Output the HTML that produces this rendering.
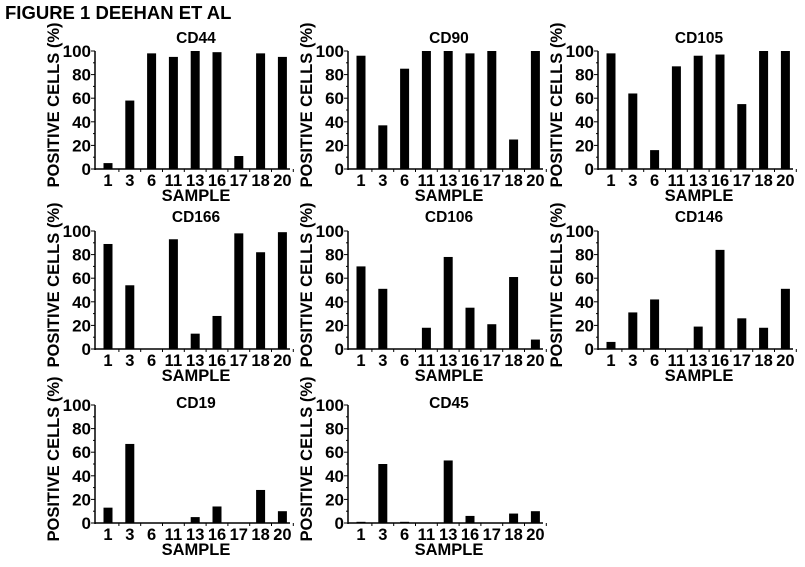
<!DOCTYPE html>
<html><head><meta charset="utf-8"><style>
body{margin:0;background:#fff;width:805px;height:562px;overflow:hidden;font-family:"Liberation Sans",Arial,sans-serif}
svg text{font-family:"Liberation Sans",Arial,sans-serif;font-weight:bold;fill:#000}
</style></head><body>
<svg id="fig" width="805" height="562" xmlns="http://www.w3.org/2000/svg">
<text x="5" y="19" font-size="18.5">FIGURE 1 DEEHAN ET AL</text>
</svg>
<script>
const categories=["1","3","6","11","13","16","17","18","20"];
const yTicks=[0,20,40,60,80,100];
const markers=["CD44","CD90","CD105","CD166","CD106","CD146","CD19","CD45"];
const cd44=[5,58,98,95,100,99,11,98,95];
const cd90=[96,37,85,100,100,98,100,25,100];
const cd105=[98,64,16,87,96,97,55,100,100];
const cd166=[89,54,0,93,13,28,98,82,99];
const cd106=[70,51,0,18,78,35,21,61,8];
const cd146=[6,31,42,0,19,84,26,18,51];
const cd19=[13,67,0,0,5,14,0,28,10];
const cd45=[1,50,1,0,53,6,0,8,10];
const series=[cd44,cd90,cd105,cd166,cd106,cd146,cd19,cd45];
const NS="http://www.w3.org/2000/svg";
const svg=document.getElementById('fig');
function mk(tag,attrs,parent){const e=document.createElementNS(NS,tag);for(const k in attrs)e.setAttribute(k,attrs[k]);parent.appendChild(e);return e;}
const colX=[95,348,598], rowY=[51,231,405], titleOff=[-8,-9,3], H=118, W=195, step=21.8, bw=9;
series.forEach((vals,i)=>{
  const r0=Math.floor(i/3);
  const ax=colX[i%3], top=rowY[r0], base=top+H;
  const g=mk('g',{},svg);
  
  
  const y=v=>base-v/100*H;
  const x=j=>ax+13+j*step;
  const t=mk('text',{x:ax+101,y:top+titleOff[r0],'font-size':15.5,'text-anchor':'middle'},g);t.textContent=markers[i];
  
  
  const yl=mk('line',{x1:ax,y1:top,x2:ax,y2:base+1,stroke:'#000','stroke-width':1.5},g);
  
  
  const xl=mk('line',{x1:ax,y1:base,x2:ax+W,y2:base,stroke:'#000','stroke-width':1.5},g);
  
  
  for(let v=0;v<=100;v+=10){mk('line',{x1:ax-(v%20?2:4),y1:y(v),x2:ax,y2:y(v),stroke:'#000','stroke-width':1},g);}
  yTicks.forEach(v=>{const l=mk('text',{x:ax-4,y:y(v)+6,'font-size':17,'text-anchor':'end'},g);l.textContent=v;
    
    });
  const yt=mk('text',{x:0,y:0,'font-size':16.5,'text-anchor':'middle',transform:`translate(${ax-36},${top+H/2-5}) rotate(-90)`},g);
  yt.textContent='POSITIVE CELLS (%)';
  
  
  categories.forEach((c,j)=>{
    mk('line',{x1:x(j)+step/2,y1:base,x2:x(j)+step/2,y2:base+3,stroke:'#000','stroke-width':1},g);
    const r=mk('rect',{x:x(j)-bw/2,y:y(vals[j]),width:bw,height:base-y(vals[j]),fill:'#000'},g);
    
    
    const l=mk('text',{x:x(j),y:base+17,'font-size':16.5,'text-anchor':'middle'},g);l.textContent=c;
    
    
  });
  const xt=mk('text',{x:ax+101,y:base+32,'font-size':16.5,'text-anchor':'middle'},g);xt.textContent='SAMPLE';
  
  
});
</script>
</body></html>
